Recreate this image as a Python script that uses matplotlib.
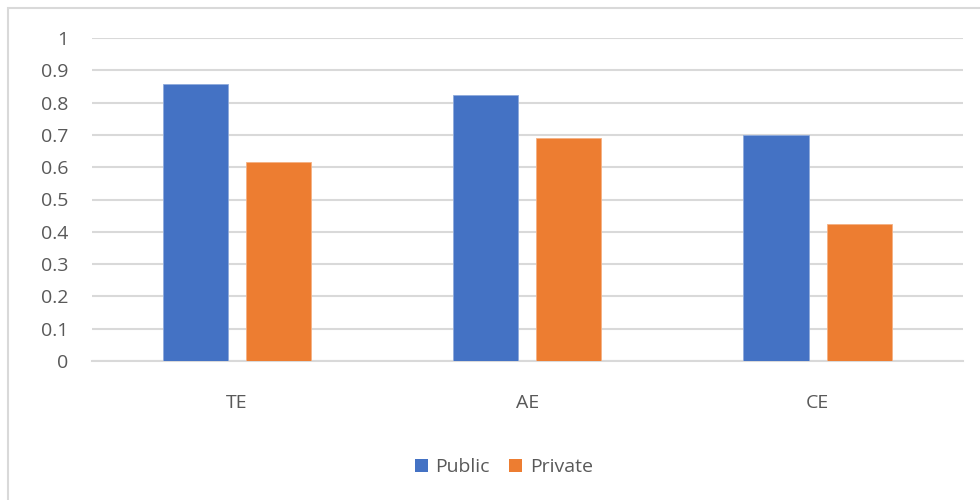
import matplotlib
matplotlib.use("Agg")
import matplotlib.pyplot as plt
from matplotlib.patches import Rectangle, Patch
import numpy as np

categories = ["TE", "AE", "CE"]
public = [0.857, 0.822, 0.700]
private = [0.615, 0.689, 0.423]
yticks = [0, 0.1, 0.2, 0.3, 0.4, 0.5, 0.6, 0.7, 0.8, 0.9, 1]
ytick_labels = ["0", "0.1", "0.2", "0.3", "0.4", "0.5", "0.6", "0.7", "0.8", "0.9", "1"]

plt.rcParams['font.family'] = ['Open Sans', 'DejaVu Sans']
txt = "#595959"
blue = "#4472C4"
orange = "#ED7D31"
grid = "#D9D9D9"

fig = plt.figure(figsize=(9.8, 5.0), dpi=100)
W, H = 980, 500
ax = fig.add_axes([91.7 / W, 1 - 361 / H, (962.7 - 91.7) / W, (361 - 38) / H])

x = np.arange(len(categories))
bw = 0.224
off = 0.143
ax.bar(x - off, public, bw, color=blue, edgecolor="#8FAADC", linewidth=0.6, zorder=3, label="Public")
ax.bar(x + off, private, bw, color=orange, edgecolor="#F4B183", linewidth=0.6, zorder=3, label="Private")

ax.set_xlim(-0.5, 2.5)
ax.set_ylim(0, 1)
ax.set_yticks(yticks)
ax.set_yticklabels(ytick_labels)
ax.set_xticks(x)
ax.set_xticklabels(categories)
fs = 14
ax.tick_params(axis="y", length=0, pad=17, labelsize=fs, labelcolor=txt)
ax.tick_params(axis="x", length=0, pad=24, labelsize=fs, labelcolor=txt)
ax.yaxis.grid(True, color=grid, linewidth=1.5, zorder=0)
ax.set_axisbelow(True)
for s in ["top", "right", "left"]:
    ax.spines[s].set_visible(False)
ax.spines["bottom"].set_color(grid)
ax.spines["bottom"].set_linewidth(1.5)

handles = [Patch(facecolor=blue, edgecolor="none"), Patch(facecolor=orange, edgecolor="none")]
fig.legend(handles, ["Public", "Private"], loc="center", bbox_to_anchor=(504 / W, 1 - 467 / H),
           ncol=2, frameon=False, fontsize=fs, labelcolor=txt, handlelength=0.65, handleheight=0.65,
           handletextpad=0.4, columnspacing=1.0)

fig.patches.append(Rectangle((7.5 / W, -0.1), 1.2, 1.1 - 8 / H, transform=fig.transFigure,
                             facecolor="none", edgecolor=grid, linewidth=1.5))

fig.savefig("out.png", dpi=100, facecolor="white")
